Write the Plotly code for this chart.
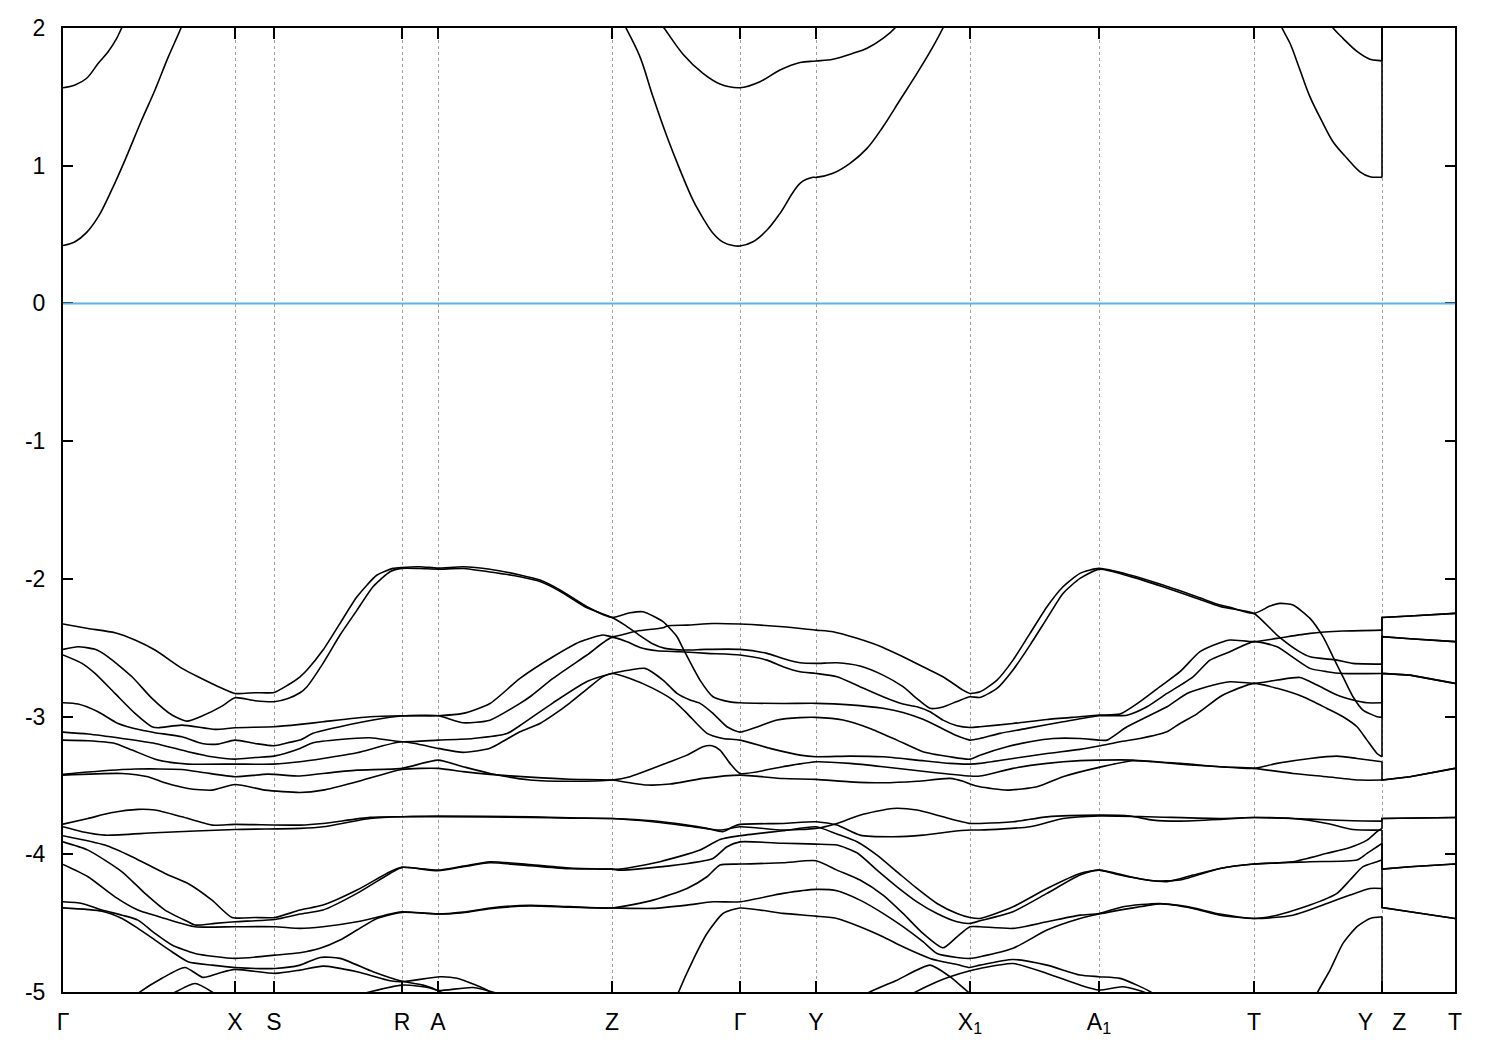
import plotly.graph_objects as go

# ---------------- axis data ----------------
K_TICKS = [0, 1.72, 2.11, 3.39, 3.75, 5.49, 6.77, 7.53, 9.07, 10.36, 11.91, 13.19, 13.92]
K_LABELS = ["Γ", "X", "S", "R", "A", "Z", "Γ", "Y", "X<sub>1</sub>", "A<sub>1</sub>",
            "T", "Y\u00a0\u00a0\u00a0Z", "T"]
E_TICKS = [2, 1, 0, -1, -2, -3, -4, -5]
E_FERMI = 0.0

# ---------------- conduction bands (k, E) ----------------
CB1 = [(0, 0.42), (0.12, 0.448), (0.237, 0.516), (0.353, 0.63), (0.487, 0.824), (0.62, 1.041),
       (0.787, 1.332), (0.92, 1.55), (1.053, 1.79), (1.18, 2.0), (1.40, 2.4), (1.72, 2.8), (2.11, 2.95),
       (3.39, 3.2), (3.75, 3.2), (4.6, 2.8), (5.2, 2.35), (5.49, 2.2), (5.63, 2.0), (5.77, 1.79),
       (5.90, 1.50), (6.04, 1.21), (6.17, 0.97), (6.30, 0.75), (6.40, 0.62), (6.50, 0.51),
       (6.60, 0.445), (6.70, 0.42), (6.77, 0.417), (6.90, 0.448), (7.04, 0.533), (7.17, 0.654),
       (7.37, 0.872), (7.50, 0.916), (7.53, 0.915), (7.70, 0.945), (7.87, 1.017), (8.04, 1.126),
       (8.20, 1.283), (8.37, 1.477), (8.54, 1.67), (8.70, 1.864), (8.80, 2.0), (9.07, 2.4), (10.36, 3.0),
       (11.91, 2.5), (12.10, 2.15), (12.19, 2.0), (12.27, 1.889), (12.37, 1.695), (12.47, 1.50),
       (12.60, 1.308), (12.70, 1.174), (12.84, 1.054), (12.97, 0.956), (13.07, 0.92), (13.17, 0.916),
       (13.19, 0.915), (13.19, 2.2), (13.92, 2.5)]
CB2 = [(0, 1.566), (0.12, 1.586), (0.237, 1.635), (0.353, 1.744), (0.453, 1.83), (0.537, 1.925),
       (0.587, 2.0), (0.8, 2.3), (1.72, 3.0), (3.39, 3.6), (5.49, 2.6), (5.8, 2.2), (6.01, 2.0),
       (6.20, 1.81), (6.40, 1.67), (6.57, 1.593), (6.77, 1.566), (6.97, 1.61), (7.17, 1.695),
       (7.37, 1.75), (7.53, 1.76), (7.70, 1.773), (7.90, 1.816), (8.04, 1.853), (8.20, 1.925),
       (8.32, 2.0), (8.6, 2.3), (9.07, 2.8), (11.91, 2.9), (12.4, 2.3), (12.70, 2.0), (12.80, 1.925),
       (12.94, 1.83), (13.07, 1.773), (13.17, 1.763), (13.19, 1.76), (13.19, 2.6), (13.92, 2.9)]

# ---------------- valence bands (k, E) ----------------
VB01 = [(0, -2.328), (0.25, -2.360), (0.52, -2.391), (0.72, -2.444), (0.92, -2.517), (1.19, -2.650),
        (1.35, -2.711), (1.59, -2.795), (1.72, -2.832), (1.92, -2.827), (2.11, -2.825), (2.25, -2.771),
        (2.37, -2.711), (2.44, -2.662), (2.60, -2.517), (2.77, -2.323), (2.94, -2.130), (3.14, -1.972),
        (3.30, -1.924), (3.39, -1.917), (3.57, -1.912), (3.75, -1.922), (4.00, -1.912), (4.27, -1.93),
        (4.57, -1.972), (4.77, -2.009), (4.97, -2.081), (5.24, -2.202), (5.49, -2.280), (5.67, -2.246),
        (5.80, -2.239), (6.00, -2.311), (6.14, -2.420), (6.20, -2.505), (6.37, -2.735), (6.50, -2.856),
        (6.67, -2.893), (6.77, -2.900), (7.20, -2.905), (7.53, -2.904), (7.87, -2.915), (8.20, -2.94),
        (8.40, -2.97), (8.60, -3.02), (8.80, -3.09), (8.94, -3.14), (9.07, -3.171), (9.17, -3.159),
        (9.37, -3.122), (9.64, -3.086), (10.00, -3.038), (10.36, -2.994), (10.64, -2.99), (10.84, -2.929),
        (11.04, -2.832), (11.30, -2.711), (11.47, -2.590), (11.67, -2.529), (11.91, -2.456),
        (12.14, -2.493), (12.34, -2.590), (12.47, -2.650), (12.64, -2.674), (12.80, -2.687),
        (13.19, -2.687), (13.19, -2.42), (13.47, -2.435), (13.92, -2.456)]
VB02 = [(0, -2.512), (0.15, -2.493), (0.32, -2.512), (0.45, -2.566), (0.69, -2.711), (0.89, -2.868),
        (1.09, -2.989), (1.24, -3.033), (1.39, -2.996), (1.59, -2.924), (1.72, -2.863), (1.92, -2.885),
        (2.11, -2.892), (2.25, -2.868), (2.37, -2.827), (2.44, -2.783), (2.60, -2.614), (2.77, -2.408),
        (2.94, -2.227), (3.10, -2.057), (3.27, -1.948), (3.39, -1.924), (3.57, -1.925), (3.75, -1.930),
        (4.00, -1.925), (4.27, -1.95), (4.57, -1.985), (4.77, -2.02), (4.97, -2.09), (5.24, -2.21),
        (5.49, -2.280), (5.62, -2.336), (5.76, -2.408), (5.89, -2.469), (6.02, -2.505), (6.22, -2.517),
        (6.42, -2.512), (6.77, -2.512), (7.04, -2.541), (7.20, -2.578), (7.37, -2.609), (7.53, -2.614),
        (7.74, -2.609), (7.97, -2.633), (8.20, -2.699), (8.40, -2.783), (8.54, -2.87), (8.67, -2.94),
        (8.80, -2.93), (8.94, -2.89), (9.07, -2.856), (9.17, -2.861), (9.34, -2.796), (9.50, -2.662),
        (9.67, -2.481), (9.84, -2.287), (10.00, -2.106), (10.17, -1.997), (10.36, -1.931),
        (10.67, -1.982), (11.00, -2.057), (11.34, -2.142), (11.57, -2.200), (11.67, -2.215),
        (11.91, -2.251), (12.14, -2.408), (12.34, -2.517), (12.47, -2.566), (12.74, -2.590),
        (12.90, -2.614), (13.19, -2.619), (13.19, -2.28), (13.47, -2.27), (13.92, -2.251)]
VB03 = [(0, -2.553), (0.19, -2.614), (0.32, -2.687), (0.52, -2.832), (0.72, -2.977), (0.89, -3.074),
        (0.95, -3.081), (1.19, -3.062), (1.52, -3.093), (1.72, -3.081), (2.11, -3.074), (2.37, -3.057),
        (2.60, -3.038), (3.07, -3.001), (3.39, -2.994), (3.75, -2.994), (4.00, -2.977), (4.27, -2.905),
        (4.57, -2.723), (4.90, -2.566), (5.17, -2.457), (5.40, -2.408), (5.49, -2.42), (5.74, -2.379),
        (6.00, -2.355), (6.05, -2.340), (6.24, -2.336), (6.50, -2.324), (6.77, -2.328), (7.20, -2.348),
        (7.53, -2.372), (7.70, -2.384), (7.94, -2.432), (8.20, -2.498), (8.40, -2.566), (8.60, -2.638),
        (8.80, -2.711), (9.00, -2.808), (9.07, -2.832), (9.17, -2.820), (9.34, -2.735), (9.50, -2.590),
        (9.67, -2.396), (9.84, -2.202), (10.00, -2.057), (10.17, -1.960), (10.36, -1.924),
        (10.67, -1.972), (11.00, -2.045), (11.34, -2.130), (11.57, -2.190), (11.67, -2.207),
        (11.91, -2.251), (12.07, -2.198), (12.17, -2.178), (12.30, -2.190), (12.47, -2.287),
        (12.60, -2.420), (12.70, -2.566), (12.80, -2.711), (12.90, -2.856), (13.00, -2.953),
        (13.14, -3.001), (13.19, -3.006), (13.19, -2.687), (13.47, -2.699), (13.92, -2.759)]
VB04 = [(0, -2.900), (0.15, -2.909), (0.35, -2.965), (0.55, -3.050), (0.78, -3.098), (0.92, -3.117),
        (1.19, -3.147), (1.39, -3.195), (1.55, -3.200), (1.72, -3.171), (1.92, -3.195), (2.11, -3.212),
        (2.25, -3.190), (2.37, -3.171), (2.50, -3.122), (2.77, -3.074), (3.10, -3.025), (3.39, -2.996),
        (3.75, -2.994), (4.00, -3.045), (4.27, -3.026), (4.57, -2.904), (4.67, -2.856), (4.90, -2.723),
        (5.24, -2.553), (5.49, -2.425), (5.64, -2.457), (5.77, -2.498), (5.94, -2.522), (6.17, -2.529),
        (6.44, -2.541), (6.77, -2.553), (7.04, -2.590), (7.20, -2.638), (7.37, -2.675), (7.53, -2.687),
        (7.74, -2.711), (7.97, -2.783), (8.20, -2.856), (8.40, -2.909), (8.54, -2.929), (8.67, -2.965),
        (8.80, -3.026), (8.94, -3.067), (9.07, -3.079), (9.17, -3.074), (9.50, -3.050), (9.84, -3.021),
        (10.17, -3.001), (10.36, -2.989), (10.57, -2.982), (10.77, -2.892), (10.97, -2.783),
        (11.17, -2.674), (11.37, -2.529), (11.57, -2.464), (11.67, -2.444), (11.91, -2.456),
        (12.14, -2.432), (12.47, -2.396), (12.80, -2.379), (13.19, -2.372), (13.19, -2.28),
        (13.47, -2.27), (13.92, -2.251)]
VB05 = [(0, -3.113), (0.25, -3.127), (0.59, -3.159), (0.92, -3.195), (1.25, -3.255), (1.49, -3.292),
        (1.72, -3.309), (1.92, -3.297), (2.11, -3.287), (2.37, -3.231), (2.50, -3.190), (2.77, -3.166),
        (3.07, -3.154), (3.39, -3.183), (3.75, -3.171), (4.10, -3.159), (4.44, -3.123), (4.57, -3.065),
        (4.90, -2.90), (5.24, -2.745), (5.49, -2.687), (5.67, -2.662), (5.82, -2.650), (6.00, -2.735),
        (6.14, -2.832), (6.27, -2.880), (6.37, -2.904), (6.50, -2.977), (6.64, -3.074), (6.77, -3.113),
        (7.14, -3.025), (7.37, -3.008), (7.53, -3.006), (7.80, -3.025), (8.07, -3.086), (8.34, -3.171),
        (8.60, -3.255), (8.87, -3.292), (9.07, -3.309), (9.17, -3.280), (9.44, -3.219), (9.67, -3.183),
        (9.90, -3.159), (10.17, -3.159), (10.36, -3.171), (10.44, -3.171), (10.64, -3.074),
        (10.84, -3.001), (11.04, -2.929), (11.24, -2.832), (11.44, -2.783), (11.67, -2.747),
        (11.91, -2.759), (12.14, -2.735), (12.37, -2.716), (12.54, -2.771), (12.74, -2.844),
        (12.90, -2.880), (13.04, -2.900), (13.19, -2.900), (13.19, -2.42), (13.47, -2.435),
        (13.92, -2.456)]
VB06 = [(0, -3.171), (0.25, -3.176), (0.52, -3.195), (0.69, -3.243), (0.95, -3.316), (1.25, -3.345),
        (1.72, -3.345), (2.11, -3.345), (2.37, -3.328), (2.60, -3.304), (2.94, -3.263), (3.39, -3.183),
        (3.75, -3.231), (4.00, -3.26), (4.27, -3.23), (4.57, -3.11), (4.77, -3.05), (4.90, -2.99),
        (5.07, -2.90), (5.24, -2.80), (5.40, -2.71), (5.49, -2.687), (5.67, -2.723), (5.90, -2.795),
        (6.10, -2.880), (6.24, -2.977), (6.44, -3.122), (6.60, -3.159), (6.77, -3.171), (7.07, -3.231),
        (7.37, -3.280), (7.53, -3.292), (7.87, -3.287), (8.20, -3.292), (8.54, -3.316), (8.87, -3.340),
        (9.07, -3.345), (9.17, -3.340), (9.50, -3.304), (9.84, -3.268), (10.17, -3.238), (10.36, -3.214),
        (10.57, -3.183), (10.77, -3.159), (11.04, -3.110), (11.17, -3.050), (11.34, -2.98),
        (11.57, -2.856), (11.67, -2.82), (11.91, -2.759), (12.14, -2.795), (12.40, -2.856),
        (12.64, -2.941), (12.80, -3.001), (12.94, -3.074), (13.04, -3.171), (13.14, -3.268),
        (13.19, -3.292), (13.19, -2.687), (13.47, -2.699), (13.92, -2.759)]
VB07 = [(0, -3.420), (0.25, -3.403), (0.72, -3.381), (1.19, -3.384), (1.42, -3.408), (1.72, -3.437),
        (2.05, -3.418), (2.37, -3.432), (2.60, -3.413), (2.94, -3.389), (3.39, -3.376), (3.75, -3.316),
        (4.00, -3.364), (4.27, -3.413), (4.67, -3.461), (5.07, -3.47), (5.49, -3.461), (5.67, -3.437),
        (5.90, -3.376), (6.07, -3.328), (6.24, -3.280), (6.40, -3.219), (6.49, -3.212), (6.57, -3.243),
        (6.67, -3.340), (6.77, -3.413), (7.20, -3.364), (7.53, -3.328), (7.87, -3.340), (8.20, -3.364),
        (8.64, -3.401), (9.07, -3.432), (9.17, -3.432), (9.50, -3.376), (9.84, -3.340), (10.17, -3.320),
        (10.36, -3.316), (10.70, -3.316), (10.90, -3.328), (11.24, -3.35), (11.57, -3.364),
        (11.91, -3.376), (12.14, -3.340), (12.47, -3.304), (12.74, -3.287), (12.94, -3.304),
        (13.19, -3.328), (13.19, -3.461), (13.47, -3.437), (13.92, -3.376)]
VB08 = [(0, -3.425), (0.59, -3.413), (0.85, -3.437), (1.02, -3.481), (1.25, -3.522), (1.49, -3.534),
        (1.72, -3.493), (2.02, -3.534), (2.37, -3.551), (2.60, -3.534), (2.94, -3.473), (3.39, -3.384),
        (3.75, -3.376), (4.00, -3.40), (4.27, -3.42), (4.67, -3.44), (5.07, -3.455), (5.49, -3.461),
        (5.67, -3.481), (5.84, -3.497), (6.07, -3.490), (6.40, -3.449), (6.77, -3.425), (7.20, -3.45),
        (7.53, -3.456), (7.87, -3.474), (8.20, -3.481), (8.54, -3.47), (8.87, -3.449), (9.00, -3.47),
        (9.07, -3.49), (9.17, -3.510), (9.44, -3.534), (9.74, -3.510), (10.00, -3.437), (10.36, -3.369),
        (10.70, -3.321), (11.17, -3.340), (11.57, -3.364), (11.91, -3.376), (12.30, -3.413),
        (12.64, -3.437), (12.97, -3.461), (13.19, -3.461), (13.19, -3.461), (13.47, -3.437),
        (13.92, -3.376)]
VB09 = [(0, -3.781), (0.25, -3.740), (0.48, -3.699), (0.75, -3.674), (0.92, -3.679), (1.19, -3.728),
        (1.49, -3.788), (1.72, -3.783), (2.37, -3.788), (2.60, -3.776), (3.07, -3.732), (3.39, -3.727),
        (3.75, -3.722), (4.67, -3.727), (5.07, -3.735), (5.49, -3.74), (5.90, -3.757), (6.24, -3.788),
        (6.44, -3.812), (6.60, -3.836), (6.70, -3.80), (6.77, -3.783), (7.20, -3.776), (7.53, -3.764),
        (7.74, -3.788), (7.97, -3.861), (8.30, -3.873), (8.60, -3.861), (8.87, -3.836), (9.07, -3.824),
        (9.17, -3.824), (9.67, -3.80), (10.00, -3.740), (10.36, -3.722), (10.84, -3.727),
        (11.57, -3.740), (11.91, -3.733), (12.30, -3.740), (12.64, -3.776), (12.90, -3.82),
        (13.19, -3.824), (13.19, -4.108), (13.47, -4.09), (13.92, -4.071)]
VB10 = [(0, -3.800), (0.19, -3.836), (0.42, -3.861), (0.92, -3.844), (1.72, -3.820), (2.37, -3.812),
        (2.60, -3.800), (3.07, -3.740), (3.39, -3.727), (3.75, -3.727), (4.67, -3.732), (5.07, -3.738),
        (5.49, -3.74), (5.90, -3.764), (6.30, -3.80), (6.57, -3.824), (6.77, -3.80), (7.20, -3.824),
        (7.53, -3.812), (7.74, -3.776), (7.97, -3.716), (8.30, -3.667), (8.54, -3.679), (8.80, -3.728),
        (9.07, -3.776), (9.17, -3.776), (9.50, -3.764), (9.84, -3.728), (10.36, -3.716),
        (10.67, -3.722), (10.90, -3.752), (11.17, -3.759), (11.57, -3.747), (11.91, -3.733),
        (12.47, -3.745), (12.90, -3.757), (13.19, -3.759), (13.19, -3.74), (13.92, -3.733)]
VB11 = [(0, -3.865), (0.42, -3.933), (0.69, -4.018), (1.02, -4.139), (1.25, -4.212), (1.49, -4.333),
        (1.69, -4.459), (1.92, -4.459), (2.12, -4.459), (2.37, -4.405), (2.60, -4.369), (2.94, -4.260),
        (3.27, -4.127), (3.39, -4.095), (3.75, -4.115), (4.00, -4.086), (4.27, -4.054), (4.67, -4.075),
        (5.07, -4.10), (5.49, -4.108), (5.57, -4.108), (5.97, -4.054), (6.37, -3.969), (6.57, -3.892),
        (6.77, -3.865), (7.20, -3.829), (7.53, -3.80), (7.74, -3.853), (7.94, -3.909), (8.14, -4.006),
        (8.34, -4.127), (8.54, -4.248), (8.74, -4.357), (8.94, -4.430), (9.07, -4.459), (9.17, -4.466),
        (9.50, -4.381), (9.84, -4.248), (10.17, -4.139), (10.36, -4.115), (10.57, -4.151),
        (10.84, -4.187), (11.04, -4.199), (11.30, -4.151), (11.57, -4.103), (11.91, -4.071),
        (12.30, -4.054), (12.64, -3.993), (12.87, -3.95), (13.04, -3.897), (13.14, -3.836),
        (13.19, -3.812), (13.19, -3.74), (13.92, -3.733)]
VB12 = [(0, -3.91), (0.25, -3.970), (0.59, -4.127), (0.82, -4.284), (1.02, -4.405), (1.25, -4.490),
        (1.32, -4.514), (1.52, -4.502), (1.72, -4.490), (2.12, -4.473), (2.37, -4.434), (2.60, -4.405),
        (2.94, -4.284), (3.27, -4.139), (3.39, -4.095), (3.75, -4.120), (4.00, -4.091), (4.27, -4.062),
        (4.67, -4.083), (5.07, -4.105), (5.49, -4.108), (5.57, -4.115), (6.04, -4.086), (6.50, -4.030),
        (6.64, -3.945), (6.77, -3.91), (7.20, -3.92), (7.53, -3.926), (7.74, -3.933), (7.94, -3.989),
        (8.14, -4.115), (8.34, -4.236), (8.54, -4.345), (8.74, -4.430), (8.94, -4.490), (9.07, -4.502),
        (9.17, -4.483), (9.50, -4.417), (9.84, -4.284), (10.17, -4.151), (10.36, -4.115),
        (10.67, -4.163), (10.90, -4.192), (11.17, -4.187), (11.57, -4.103), (11.91, -4.071),
        (12.47, -4.054), (12.94, -4.042), (13.04, -3.993), (13.14, -3.945), (13.19, -3.921),
        (13.19, -4.108), (13.47, -4.09), (13.92, -4.071)]
VB13 = [(0, -4.074), (0.25, -4.163), (0.52, -4.309), (0.75, -4.405), (1.02, -4.466), (1.32, -4.526),
        (1.72, -4.526), (2.12, -4.526), (2.37, -4.538), (2.60, -4.526), (2.94, -4.490), (3.27, -4.434),
        (3.39, -4.417), (3.75, -4.434), (4.00, -4.42), (4.27, -4.39), (4.67, -4.37), (5.07, -4.38),
        (5.49, -4.39), (5.90, -4.333), (6.24, -4.248), (6.44, -4.163), (6.57, -4.078), (6.77, -4.071),
        (7.20, -4.062), (7.53, -4.047), (7.74, -4.115), (7.97, -4.187), (8.20, -4.296), (8.40, -4.429),
        (8.60, -4.575), (8.80, -4.679), (8.94, -4.599), (9.07, -4.526), (9.17, -4.526), (9.50, -4.538),
        (9.84, -4.490), (10.17, -4.442), (10.36, -4.430), (10.60, -4.381), (10.97, -4.357),
        (11.30, -4.393), (11.57, -4.442), (11.91, -4.466), (12.14, -4.442), (12.47, -4.369),
        (12.74, -4.284), (12.87, -4.187), (13.00, -4.090), (13.14, -4.054), (13.19, -4.042),
        (13.19, -4.386), (13.47, -4.417), (13.92, -4.466)]
VB14 = [(0, -4.345), (0.19, -4.357), (0.39, -4.405), (0.59, -4.442), (0.75, -4.478), (0.92, -4.575),
        (1.09, -4.659), (1.32, -4.720), (1.72, -4.756), (2.12, -4.732), (2.37, -4.715), (2.57, -4.683),
        (2.77, -4.623), (2.94, -4.550), (3.14, -4.466), (3.39, -4.422), (3.75, -4.434), (4.00, -4.425),
        (4.27, -4.395), (4.67, -4.375), (5.07, -4.385), (5.49, -4.39), (5.90, -4.393), (6.24, -4.369),
        (6.50, -4.345), (6.77, -4.345), (7.20, -4.284), (7.53, -4.255), (7.74, -4.265), (7.97, -4.333),
        (8.20, -4.429), (8.40, -4.526), (8.60, -4.635), (8.74, -4.720), (8.94, -4.749), (9.07, -4.756),
        (9.17, -4.744), (9.50, -4.683), (9.84, -4.550), (10.17, -4.466), (10.36, -4.434),
        (10.67, -4.393), (10.97, -4.36), (11.24, -4.38), (11.57, -4.434), (11.91, -4.466),
        (12.30, -4.442), (12.64, -4.357), (12.87, -4.296), (13.07, -4.248), (13.19, -4.248),
        (13.19, -4.386), (13.47, -4.417), (13.92, -4.466)]
VB15 = [(0, -4.389), (0.39, -4.413), (0.59, -4.466), (0.75, -4.538), (0.92, -4.623), (1.09, -4.708),
        (1.25, -4.780), (1.49, -4.805), (1.72, -4.822), (2.12, -4.829), (2.37, -4.805), (2.57, -4.749),
        (2.77, -4.756), (3.10, -4.853), (3.37, -4.918), (3.60, -4.95), (3.75, -4.99), (4.00, -5.1),
        (4.5, -5.35), (5.0, -5.6), (5.49, -5.8), (5.9, -5.5), (6.15, -5.01), (6.30, -4.768),
        (6.44, -4.575), (6.60, -4.43), (6.77, -4.39), (7.20, -4.429), (7.53, -4.449), (7.74, -4.466),
        (7.97, -4.526), (8.20, -4.599), (8.40, -4.672), (8.67, -4.756), (8.80, -4.78), (8.94, -4.80),
        (9.07, -4.822), (9.17, -4.805), (9.50, -4.764), (9.84, -4.805), (10.17, -4.877),
        (10.36, -4.889), (10.57, -4.901), (10.74, -4.950), (10.90, -5.01), (11.2, -5.2), (11.91, -5.5),
        (12.40, -5.25), (12.54, -5.01), (12.67, -4.841), (12.80, -4.647), (12.94, -4.526),
        (13.07, -4.466), (13.19, -4.454), (13.19, -5.6), (13.92, -5.6)]
VB16 = [(0, -5.6), (0.59, -5.11), (0.75, -5.01), (0.99, -4.90), (1.22, -4.822), (1.40, -4.894),
        (1.55, -4.865), (1.72, -4.836), (2.12, -4.865), (2.37, -4.841), (2.60, -4.812), (2.94, -4.853),
        (3.27, -4.918), (3.39, -4.926), (3.77, -4.889), (3.94, -4.90), (4.27, -4.998), (4.6, -5.2),
        (5.49, -5.9), (6.2, -5.8), (6.77, -5.6), (7.53, -5.3), (7.90, -5.08), (8.04, -5.01),
        (8.34, -4.914), (8.67, -4.805), (8.87, -4.889), (9.07, -5.01), (9.5, -5.2), (10.36, -5.4),
        (11.91, -5.7), (13.19, -5.8), (13.19, -5.8), (13.92, -5.8)]
VB17 = [(0, -5.8), (0.8, -5.2), (0.99, -5.06), (1.10, -5.01), (1.32, -4.938), (1.49, -5.0),
        (1.59, -5.06), (1.72, -5.15), (2.11, -5.2), (2.8, -5.05), (3.39, -4.95), (3.67, -4.97),
        (3.75, -4.99), (4.10, -4.967), (4.34, -5.01), (4.6, -5.1), (5.49, -5.9), (6.77, -5.8),
        (7.53, -5.5), (8.2, -5.15), (8.50, -5.01), (8.74, -4.925), (8.87, -4.889), (9.07, -4.846),
        (9.17, -4.829), (9.50, -4.793), (9.84, -4.865), (10.17, -4.950), (10.36, -4.986),
        (10.60, -4.962), (10.84, -5.01), (11.2, -5.2), (11.91, -5.6), (13.19, -5.9), (13.19, -5.9),
        (13.92, -5.9)]

CONDUCTION = [CB1, CB2]
VALENCE = [VB01, VB02, VB03, VB04, VB05, VB06, VB07, VB08, VB09, VB10,
           VB11, VB12, VB13, VB14, VB15, VB16, VB17]

fig = go.Figure()
LINE_W = 1.6


def add_band(band, smooth):
    ks = [p[0] for p in band]
    es = [p[1] for p in band]
    j = len(ks)
    for i in range(1, len(ks)):
        if ks[i] == ks[i - 1]:
            j = i
            break
    fig.add_trace(go.Scatter(x=ks[:j], y=es[:j], mode="lines", hoverinfo="skip", showlegend=False,
                             line=dict(color="black", width=LINE_W, shape="spline", smoothing=smooth)))
    if j < len(ks):
        fig.add_trace(go.Scatter(x=ks[j - 1:], y=es[j - 1:], mode="lines", hoverinfo="skip",
                                 showlegend=False, line=dict(color="black", width=LINE_W)))


for b in CONDUCTION:
    add_band(b, 1.0)
for b in VALENCE:
    add_band(b, 0.6)

fig.add_shape(type="line", xref="paper", x0=0, x1=1, yref="y", y0=E_FERMI, y1=E_FERMI,
              line=dict(color="#56B4E9", width=2))

FONT = "Liberation Sans, Arial, Helvetica, sans-serif"
fig.update_layout(
    width=1500, height=1050, autosize=False,
    margin=dict(l=63, r=45, t=28, b=58, pad=0),
    paper_bgcolor="white", plot_bgcolor="white",
    font=dict(family=FONT, size=23, color="black"),
    showlegend=False,
)
fig.update_xaxes(
    range=[0, K_TICKS[-1]], tickmode="array", tickvals=K_TICKS, ticktext=K_LABELS,
    ticks="inside", ticklen=11, tickwidth=1.5, tickcolor="black",
    showline=True, linecolor="black", linewidth=2, mirror="ticks",
    showgrid=True, gridcolor="#a0a0a0", gridwidth=1, griddash="3px,3px",
    zeroline=False, ticklabelstandoff=8,
)
fig.update_yaxes(
    range=[-5, 2], tickmode="array", tickvals=E_TICKS, ticktext=[str(v) for v in E_TICKS],
    ticks="inside", ticklen=10, tickwidth=1.5, tickcolor="black",
    showline=True, linecolor="black", linewidth=2, mirror="ticks",
    showgrid=False, zeroline=False, ticklabelstandoff=11,
)

fig.write_html("out.html", config={"displayModeBar": False},
               post_script="document.body.style.margin='0';")
